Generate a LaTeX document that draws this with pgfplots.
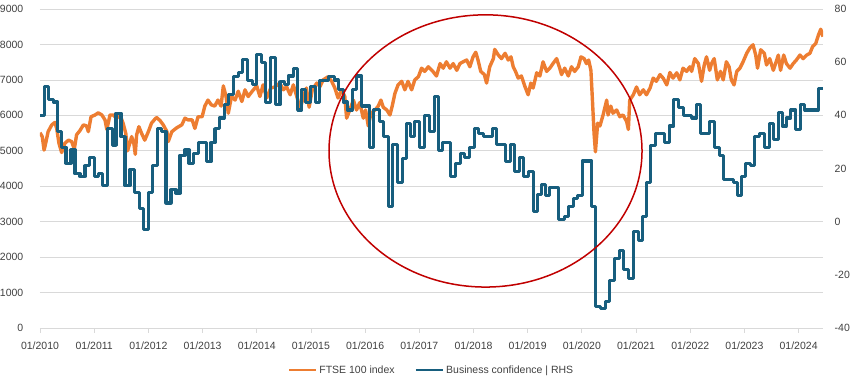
\documentclass[border=0pt]{standalone}
\usepackage{pgfplots}
\pgfplotsset{compat=1.18}
\usepackage{fontspec}
\setmainfont{Liberation Sans}
\definecolor{ftse}{HTML}{ED7D31}
\definecolor{biz}{HTML}{175E7E}
\definecolor{ring}{HTML}{C00000}
\definecolor{gridc}{HTML}{D9D9D9}
\definecolor{txt}{HTML}{404040}
\begin{document}
\fontsize{10.5bp}{12bp}\selectfont
\begin{tikzpicture}
\pgfplotsset{
 common/.style={
   scale only axis, width=783bp, height=319bp,
   xmin=0, xmax=173.4,
   tick label style={font=\fontsize{10.5bp}{12bp}\selectfont, text=txt},
   /pgf/number format/assume math mode=true,
   /pgf/number format/1000 sep={},
   axis line style={draw=none},
 }
}
\begin{axis}[common, name=ax,
  ymin=0, ymax=9000, ytick={0,1000,...,9000},
  ymajorgrids, grid style={gridc, line width=0.75bp},
  xtick={0,12,...,168},
  xticklabels={01/2010,01/2011,01/2012,01/2013,01/2014,01/2015,01/2016,01/2017,01/2018,01/2019,01/2020,01/2021,01/2022,01/2023,01/2024},
  xtick pos=bottom, ytick pos=left,
  tick align=outside,
  major tick length=5bp,
  xtick style={gridc, line width=0.75bp},
  ytick style={draw=none},
  yticklabel style={xshift=-8bp},
  xticklabel style={yshift=-5bp},
]
\addplot[ftse, line width=3.4bp, line join=round] coordinates {
(0,5510) (0.5,5400) (0.9,5020) (1.1,5120) (1.8,5540) (2.6,5730) (3.3,5800) (3.7,5630) (4.2,5210) (4.8,4950) (5.5,5210) (6.3,5300) (7.0,5260) (7.6,5050) (8.1,5450) (8.9,5580) (9.6,5730) (10.3,5700) (10.7,5540) (11.3,5960) (12.2,6010) (12.9,6070) (13.7,6010) (14.4,5870) (14.8,5600) (15.5,6010) (16.2,6010) (17.0,5920) (17.7,6010) (18.4,5780) (19.0,5490) (19.4,5000) (20.3,5400) (20.8,5190) (21.1,4900) (21.4,5450) (21.9,5680) (22.5,5490) (23.2,5300) (24.0,5540) (24.7,5780) (25.5,5900) (25.8,5940) (26.6,5850) (27.3,5730) (28.1,5540) (28.4,5260) (29.2,5540) (30.3,5650) (31.4,5730) (32.1,5920) (32.8,5870) (33.7,5870) (34.3,5630) (35.0,5960) (35.9,5960) (36.5,6260) (37.2,6430) (37.9,6300) (38.7,6260) (39.4,6430) (40.1,6260) (40.6,6830) (41.2,6530) (41.7,6060) (42.4,6530) (43.2,6430) (43.9,6680) (44.7,6390) (45.4,6720) (46.1,6530) (47.0,6680) (48.0,6830) (48.7,6530) (49.4,6860) (50.2,6490) (51.1,6770) (52.0,6800) (53.1,6910) (53.9,6720) (54.6,6810) (55.4,6580) (56.1,6860) (57.1,6430) (57.6,6150) (58.3,6530) (59.0,6770) (59.6,6230) (60.3,6720) (61.3,6910) (62.0,6810) (62.7,7000) (63.8,7090) (64.6,6960) (65.3,6770) (66.0,6490) (66.8,6720) (67.5,6530) (67.9,5920) (68.6,6150) (69.4,6430) (70.1,6150) (70.8,6360) (71.6,5920) (72.1,6150) (72.7,5700) (73.3,6060) (74.2,6150) (74.9,6260) (75.5,6430) (76.0,6230) (76.8,6150) (77.5,6010) (78.0,6260) (78.6,6620) (79.3,6860) (80.1,6960) (80.8,6720) (81.5,6960) (82.3,6720) (83.0,7000) (83.8,7090) (84.5,7330) (85.2,7240) (86.0,7370) (87.0,7240) (87.8,7110) (88.6,7460) (89.3,7330) (90.0,7510) (90.8,7330) (91.5,7460) (92.3,7270) (93.0,7460) (93.7,7510) (94.5,7560) (95.2,7370) (95.9,7650) (96.5,7780) (97.0,7560) (97.6,7240) (98.4,7150) (98.9,6910) (99.6,7370) (100.4,7600) (100.7,7860) (101.5,7700) (102.2,7600) (103.0,7750) (103.7,7560) (104.3,7650) (104.8,7370) (105.3,7240) (105.9,7050) (106.6,7110) (107.4,6810) (108.1,6580) (108.7,6910) (109.2,6770) (110.0,7200) (110.7,7110) (111.4,7510) (112.2,7240) (112.9,7330) (113.6,7460) (114.4,7600) (115.1,7330) (115.5,7150) (116.2,7330) (117.0,7110) (117.7,7370) (118.4,7240) (119.2,7370) (119.8,7650) (120.5,7600) (121.0,7460) (121.5,7560) (122.0,7270) (122.3,6530) (122.7,5490) (123.0,4970) (123.5,5780) (124.0,5700) (124.7,6010) (125.5,6430) (125.8,6010) (126.4,6260) (126.9,6060) (127.7,6150) (128.4,5960) (129.1,6010) (129.9,5830) (130.3,5600) (130.6,6430) (131.4,6580) (132.1,6800) (132.8,6580) (133.6,6720) (134.3,6580) (135.1,6770) (135.8,7050) (136.5,6960) (137.3,7150) (138.0,7050) (138.8,6860) (139.5,7210) (140.2,7050) (141.0,7200) (141.7,7000) (142.4,7330) (143.2,7240) (143.9,7370) (144.3,7240) (145.0,7600) (145.8,7460) (146.5,6960) (147.1,7420) (147.6,7650) (148.3,7270) (148.7,7460) (149.3,7600) (150.0,7000) (150.7,7240) (151.3,7000) (152.0,7510) (152.6,7370) (153.1,7000) (153.7,6860) (154.3,7240) (155.0,7330) (155.7,7510) (156.5,7750) (157.2,7900) (157.9,7990) (158.5,7700) (158.9,7330) (159.6,7850) (160.4,7750) (160.9,7420) (161.6,7600) (162.4,7270) (162.9,7460) (163.5,7700) (164.0,7270) (164.7,7700) (165.3,7460) (166.1,7330) (166.8,7460) (167.5,7560) (168.3,7700) (169.0,7600) (169.8,7700) (170.5,7750) (171.1,7940) (171.8,8030) (172.4,8270) (172.9,8430) (173.4,8220)
};
\end{axis}
\begin{axis}[common, name=ax2,
  ymin=-40, ymax=80, ytick={-40,-20,...,80},
  xtick=\empty,
  ytick pos=right, yticklabel pos=right,
  ytick style={draw=none},
  yticklabel style={xshift=8bp},
  legend style={at={(0.5,-0.132)}, anchor=center, draw=none, fill=none,
    legend columns=-1, font=\fontsize{10.5bp}{12bp}\selectfont, text=txt,
    /tikz/every even column/.append style={column sep=18bp},
    inner sep=0pt},
  legend image code/.code={\draw[#1, line width=2.6bp] (0bp,0bp) -- (27bp,0bp);},
]
\addlegendimage{ftse}
\addlegendentry{FTSE 100 index}
\addplot[biz, line width=3.1bp, const plot, line join=round] coordinates {
(0,40) (0.95,51) (1.84,46) (2.94,45) (3.92,34) (4.8,28) (5.76,22) (6.86,27) (7.75,18) (8.86,17) (9.96,21) (10.92,24) (12.02,17) (12.91,18) (13.88,13.6) (14.99,35) (16.01,28.7) (16.83,40.8) (17.93,32) (18.82,13.6) (19.93,19.7) (20.88,11) (21.98,5) (22.87,-3) (23.98,11) (24.95,21) (25.97,35) (26.94,34) (27.9,7) (29.0,12) (30.11,10.7) (31.0,25) (32.1,27) (32.99,22) (33.94,25.7) (35.05,29.7) (36.91,22.6) (37.86,29.7) (38.75,35) (39.7,39) (40.8,44) (41.69,48) (42.8,54.5) (43.9,56) (44.88,61) (45.99,53) (47.0,51.7) (48.04,63) (49.08,60) (49.97,44.8) (50.99,61.9) (52.18,44) (53.14,52.7) (54.24,51.7) (54.97,54.8) (56.08,57.7) (57.05,42) (57.94,49.8) (58.83,44.8) (59.93,51) (61.04,44.8) (61.99,53) (63.83,54.5) (65.16,53.3) (66.04,49.8) (67.15,45) (68.04,42) (69.14,49.8) (70.12,54.8) (71.22,43.5) (73.06,28) (73.95,42.3) (75.12,37.6) (76.16,32) (77.11,5.7) (78.09,29) (79.11,14.8) (80.21,23.9) (81.19,37) (82.14,32) (83.03,37.8) (84.13,28) (85.24,40) (86.35,33.9) (87.3,47) (88.18,26.7) (89.07,29.7) (91.0,17) (92.1,22) (93.14,25.5) (94.1,24) (95.2,28) (96.15,35) (97.19,33.2) (98.15,32) (100.23,35) (101.11,29) (103.11,22.6) (104.21,29) (105.17,18.8) (106.12,24) (107.16,17) (108.27,19) (109.22,3.8) (110.19,10.3) (111.08,14) (111.96,9.7) (112.91,13) (114.9,0.7) (116.08,2) (117.12,5.7) (118.07,8.8) (119.05,10) (120.06,22.8) (122.14,5.7) (123.03,-32) (124.2,-32.8) (125.24,-29.9) (126.2,-22) (127.3,-13.7) (128.26,-11) (129.3,-18) (130.25,-21.3) (131.36,-3.7) (132.46,-7) (133.44,2) (134.32,14.8) (135.28,28.7) (136.32,33) (138.22,29.7) (139.33,36) (140.37,45.8) (141.47,43) (142.43,40) (144.29,39) (145.39,44) (146.28,33) (148.34,37.8) (149.29,28) (150.4,25) (151.28,16) (153.5,14.8) (154.38,9.7) (155.35,17) (156.31,22) (157.35,21) (158.3,32) (159.41,33) (160.36,28) (161.47,37) (162.5,31) (163.45,41) (164.34,36) (165.32,39) (166.27,42) (167.38,34.7) (168.42,44) (169.37,42) (172.31,50) (173.42,50)
};
\addlegendentry{Business confidence | RHS}
\draw[ring, line width=1.5bp] (axis cs:98.66,26.6) ellipse [x radius=34.66, y radius=51.2];
\end{axis}
\pgfresetboundingbox
\path ([shift={(-40bp,-56bp)}]ax.south west) rectangle ([shift={(33bp,9bp)}]ax.north east);
\end{tikzpicture}
\end{document}
